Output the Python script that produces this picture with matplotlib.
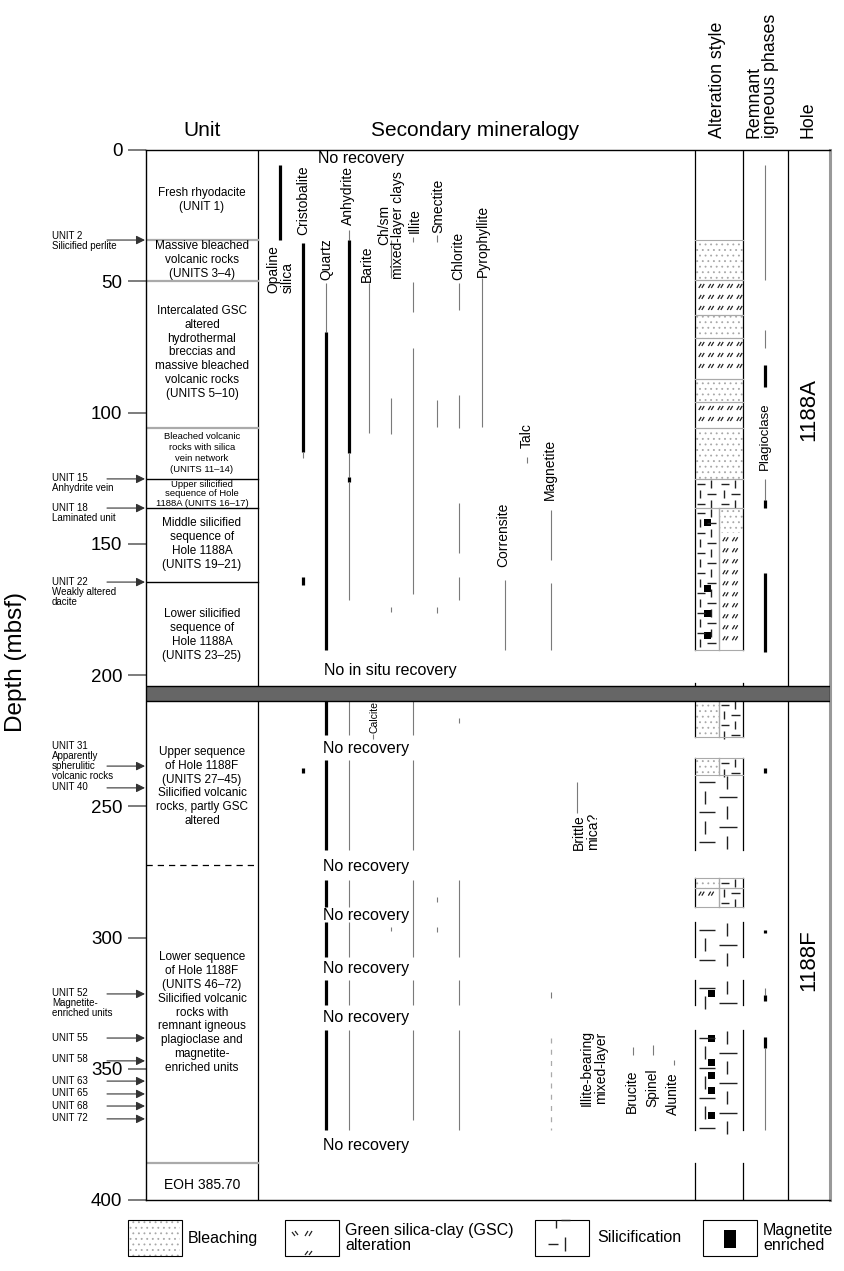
import matplotlib.pyplot as plt
from matplotlib.patches import Rectangle
from matplotlib.collections import LineCollection
import numpy as np

plt.rcParams['font.family'] = ['Liberation Sans', 'DejaVu Sans']
plt.rcParams['hatch.linewidth'] = 0.6

PX = 2.625  # pixels per metre on the depth axis

# ---------------- data ----------------
depth_ticks = [0, 50, 100, 150, 200, 250, 300, 350, 400]

unit_texts = ['Fresh rhyodacite\n(UNIT 1)',
              'Massive bleached\nvolcanic rocks\n(UNITS 3\u20134)',
              'Intercalated GSC\naltered\nhydrothermal\nbreccias and\nmassive bleached\nvolcanic rocks\n(UNITS 5\u201310)',
              'Bleached volcanic\nrocks with silica\nvein network\n(UNITS 11\u201314)',
              'Upper silicified\nsequence of Hole\n1188A (UNITS 16\u201317)',
              'Middle silicified\nsequence of\nHole 1188A\n(UNITS 19\u201321)',
              'Lower silicified\nsequence of\nHole 1188A\n(UNITS 23\u201325)',
              'Upper sequence\nof Hole 1188F\n(UNITS 27\u201345)\nSilicified volcanic\nrocks, partly GSC\naltered',
              'Lower sequence\nof Hole 1188F\n(UNITS 46\u201372)\nSilicified volcanic\nrocks with\nremnant igneous\nplagioclase and\nmagnetite-\nenriched units',
              'EOH 385.70']
unit_centres = [19.0, 41.9, 77.1, 115.4, 131.0, 150.1, 184.8, 242.5, 328.6, 394.3]

unit_bounds = [34.3, 49.9, 105.9, 125.3, 136.4, 164.6, 272.4, 385.9]
unit_bound_kind = ['gray', 'gray', 'gray', 'black', 'black', 'black', 'dashed', 'gray']

side_labels = ['UNIT 2\nSilicified perlite', 'UNIT 15\nAnhydrite vein', 'UNIT 18\nLaminated unit',
               'UNIT 22\nWeakly altered\ndacite',
               'UNIT 31\nApparently\nspherulitic\nvolcanic rocks', 'UNIT 40',
               'UNIT 52\nMagnetite-\nenriched units', 'UNIT 55', 'UNIT 58', 'UNIT 63',
               'UNIT 65', 'UNIT 68', 'UNIT 72']
side_text_depth = [33.1, 125.3, 136.4, 164.6, 227.4, 243.0, 321.5, 338.3, 346.3, 354.7, 359.6, 364.2, 369.1]
side_arrow_depth = [34.3, 125.3, 136.4, 164.6, 234.7, 243.0, 321.5, 338.3, 347.0, 354.7, 359.6, 364.2, 369.1]

mineral_names = ['Opaline\nsilica', 'Cristobalite', 'Quartz', 'Anhydrite', 'Barite', 'Calcite',
                 'Ch/sm\nmixed-layer clays', 'Illite', 'Smectite', 'Chlorite', 'Pyrophyllite',
                 'Talc', 'Magnetite', 'Corrensite', 'Brittle\nmica?', 'Illite-bearing\nmixed-layer',
                 'Brucite', 'Spinel', 'Alunite']
f_runs = [(209.6, 222.9), (232.5, 266.8), (278.2, 288.5), (294.2, 307.5), (316.3, 325.8), (335.4, 373.5)]
mineral_ranges = [
    [(5.7, 34.3, 'thick')],
    [(35.4, 115.1, 'thick'), (115.1, 117.4, 'thin'), (162.7, 165.8, 'thick'), (235.5, 237.4, 'thick')],
    [(50.7, 69.4, 'thin'), (69.4, 190.5, 'thick')] + [(a, b, 'thick') for a, b in f_runs],
    [(30.5, 34.3, 'thin'), (34.3, 115.5, 'thick'), (115.5, 124.6, 'thin'), (124.6, 126.5, 'thick'),
     (126.5, 171.5, 'thin')] + [(a, b, 'thin') for a, b in f_runs],
    [(50.7, 107.9, 'thin')],
    [(222.6, 224.5, 'thin')],
    [(34.3, 48.8, 'thin'), (94.5, 108.0, 'thin'), (174.0, 176.0, 'thin'), (296.0, 297.5, 'thin')],
    [(33.2, 35.0, 'thin'), (50.3, 61.7, 'thin'), (75.5, 169.0, 'thin'), (209.6, 222.9, 'thin'),
     (232.5, 266.8, 'thin'), (278.2, 307.5, 'thin'), (316.3, 325.8, 'thin'), (335.4, 369.7, 'thin')],
    [(32.4, 35.0, 'thin'), (95.3, 105.6, 'thin'), (174.0, 176.4, 'thin'), (284.7, 286.6, 'thin'),
     (296.0, 298.0, 'thin')],
    [(50.7, 61.0, 'thin'), (93.4, 106.0, 'thin'), (134.5, 153.6, 'thin'), (162.7, 171.5, 'thin'),
     (216.5, 218.4, 'thin'), (278.2, 307.5, 'thin'), (316.3, 325.8, 'thin'), (335.4, 373.5, 'thin')],
    [(48.8, 105.6, 'thin')],
    [(117.0, 119.3, 'thin')],
    [(137.2, 156.2, 'thin'), (165.0, 190.5, 'thin'), (320.9, 323.2, 'thin'), (338.4, 373.5, 'dashed')],
    [(163.9, 190.5, 'thin')],
    [(240.9, 252.7, 'thin')],
    [],
    [(341.8, 344.9, 'thin')],
    [(341.0, 344.9, 'thin')],
    [(346.8, 348.7, 'thin')],
]

no_recovery = [3.4, 228.0, 273.0, 291.5, 311.7, 330.4, 379.2]
no_insitu = 198.1

# alteration style intervals (depth top, depth bottom)
bleach_full = [(34.3, 49.5), (63.0, 71.6), (87.3, 96.0), (106.0, 125.3)]
gsc_full = [(49.5, 63.0), (71.6, 87.3), (96.0, 106.0)]
silic_full_a = [(125.3, 136.4)]
silic_full_f = [(238.0, 266.8), (294.2, 307.5), (316.3, 325.8), (335.4, 373.5)]
bleach_left = [(209.6, 223.7), (231.7, 238.0), (277.4, 281.0)]
gsc_left = [(281.0, 288.5)]
silic_left = [(136.4, 190.5)]
bleach_right = [(136.4, 146.0)]
gsc_right = [(146.0, 190.5)]
silic_right = [(209.6, 223.7), (231.7, 238.0), (277.4, 288.5)]
magnetite_a = [142.0, 167.0, 176.5, 185.0]
magnetite_f = [321.3, 338.4, 347.6, 352.5, 358.2, 367.7]
alt_recovered = [(0, 190.5), (203.0, 204.0), (209.6, 223.7), (231.7, 266.8), (277.4, 288.5),
                 (294.2, 307.5), (316.3, 325.8), (335.4, 373.5), (385.9, 400)]

plagioclase = [(5.7, 49.5, 'thin'), (68.6, 75.5, 'thin'), (82.0, 90.3, 'thick'), (125.4, 133.4, 'thin'),
               (133.4, 136.4, 'thick'), (161.2, 191.3, 'thick'), (235.5, 237.4, 'thick'),
               (297.3, 298.4, 'thick'), (319.4, 322.0, 'thin'), (322.0, 324.0, 'thick'),
               (338.0, 342.2, 'thick'), (342.2, 373.5, 'thin')]

gap_top, gap_bottom = 204.0, 210.0

# ---------------- layout ----------------
mineral_x = [280, 303, 326, 349, 369, 373, 391, 413, 437, 459, 482, 527, 551, 505, 577, None, 633, 653, 674]
# (x, depth, vertical alignment, multialignment, fontsize)
label_pos = [(280.5, 54.5, 'bottom', 'left', 10), (303, 32.4, 'bottom', 'left', 10),
             (326, 49.5, 'bottom', 'left', 10), (348, 28.6, 'bottom', 'left', 10),
             (367, 50.3, 'bottom', 'left', 10), (374, 222.0, 'bottom', 'left', 7.5),
             (391, 28.6, 'center', 'center', 10), (415, 31.6, 'bottom', 'left', 10),
             (438, 31.6, 'bottom', 'left', 10), (458, 49.5, 'bottom', 'left', 10),
             (483, 48.4, 'bottom', 'left', 10), (527, 113.6, 'bottom', 'left', 10),
             (550, 133.4, 'bottom', 'left', 10), (503, 158.9, 'bottom', 'left', 10),
             (586, 266.8, 'bottom', 'left', 10), (594, 349.8, 'center', 'center', 10),
             (632, 367.0, 'bottom', 'left', 10), (652, 364.7, 'bottom', 'left', 10),
             (673, 367.8, 'bottom', 'left', 10)]
unit_fs = [8.5, 8.5, 8.5, 6.8, 6.8, 8.5, 8.5, 8.5, 8.5, 10]
unit_ls = [1.2, 1.2, 1.2, 1.25, 1.05, 1.2, 1.2, 1.2, 1.2, 1.2]

X0, XU, XA, XR, XH, X1 = 146, 258, 695, 743, 788, 830
XMID = 719

fig = plt.figure(figsize=(8.44, 12.71), dpi=100)
ax = fig.add_axes([X0 / 844, 1 - 1200 / 1271, (X1 - X0) / 844, 1050 / 1271])
ax.set_xlim(X0, X1)
ax.set_ylim(400, 0)
ax.set_xticks([])
ax.set_yticks(depth_ticks)
ax.tick_params(axis='y', length=13, width=1.2, color='#666666', labelsize=13.5, pad=4)
for s in ['left', 'top', 'bottom']:
    ax.spines[s].set_color('black')
    ax.spines[s].set_linewidth(1.0)
ax.spines['right'].set_color('#999999')
ax.spines['right'].set_linewidth(2.2)
fig.text(16 / 844, 1 - 662 / 1271, 'Depth (mbsf)', rotation=90, ha='center', va='center', fontsize=17.5)


def vline(x, d0, d1, kind, **kw):
    if kind == 'thick':
        ax.plot([x, x], [d0, d1], color='black', lw=2.3, solid_capstyle='butt', **kw)
    elif kind == 'thin':
        ax.plot([x, x], [d0, d1], color='#7a7a7a', lw=0.8, solid_capstyle='butt', **kw)
    else:
        ax.plot([x, x], [d0, d1], color='#aaaaaa', lw=0.9, ls=(0, (4, 5)), **kw)


# column borders
ax.plot([XU, XU], [0, 400], color='black', lw=0.9)
ax.plot([XH, XH], [0, 400], color='black', lw=0.9)
for a, b in alt_recovered:
    ax.plot([XA, XA], [a, b], color='black', lw=0.9)
    ax.plot([XR, XR], [a, b], color='black', lw=0.9)

# unit boundaries
for d, k in zip(unit_bounds, unit_bound_kind):
    if k == 'dashed':
        ax.plot([X0, XU], [d, d], color='black', lw=0.9, ls=(0, (5, 4)))
    else:
        ax.plot([X0, XU], [d, d], color='black' if k == 'black' else '#aaaaaa', lw=1.0 if k == 'black' else 1.6)

for t, d, fs, ls in zip(unit_texts, unit_centres, unit_fs, unit_ls):
    ax.text(202, d, t, ha='center', va='center', fontsize=fs, linespacing=ls)

# side labels and arrows
for t, dt, da in zip(side_labels, side_text_depth, side_arrow_depth):
    ax.text(52, dt - 5.5 / PX, t, ha='left', va='top', fontsize=7, linespacing=1.0, clip_on=False)
    ax.annotate('', xy=(145, da), xytext=(107, da), annotation_clip=False,
                arrowprops=dict(arrowstyle='-|>', color='#333333', lw=0.8, mutation_scale=13,
                                shrinkA=0, shrinkB=0))

# secondary mineralogy
for name, x, rngs, lp in zip(mineral_names, mineral_x, mineral_ranges, label_pos):
    if x is not None:
        for a, b, k in rngs:
            vline(x, a, b, k)
    lx, ld, va, ma, fs = lp
    ax.text(lx, ld, name, rotation=90, ha='center', va=va, multialignment=ma,
            fontsize=fs, linespacing=1.0)

for i, d in enumerate(no_recovery):
    ax.text(318 if i == 0 else 323, d, 'No recovery', ha='left', va='center', fontsize=11.5)
ax.text(324, no_insitu, 'No in situ recovery', ha='left', va='center', fontsize=11.5)


# alteration patterns
def bleach(x0, x1, d0, d1, **kw):
    ax.add_patch(Rectangle((x0, d0), x1 - x0, d1 - d0, facecolor='white', edgecolor='#a8a8a8',
                           hatch='...', lw=0, **kw))


def gsc(x0, x1, d0, d1, clip=True):
    segs = []
    for yy in np.arange(d0 * PX + 6, d1 * PX - 3, 11):
        for xx in np.arange(x0 + 5, x1 - 3, 9.5):
            for off in (0, 3):
                segs.append([(xx - 1.2 + off, (yy + 2) / PX), (xx + 1.2 + off, (yy - 2) / PX)])
    ax.add_collection(LineCollection(segs, colors='#222222', linewidths=0.9, clip_on=clip))


def silic(x0, x1, d0, d1, w=24, h=10, clip=True):
    # brick-like dash/tick pattern, w = repeat width, h = row height (pixels)
    segs = []
    k = 0
    f = w / 24
    for yy in np.arange(d0 * PX, d1 * PX - 4, h):
        for xx in np.arange(x0, x1 - 4, w):
            if k % 2 == 0:
                segs.append([(xx + 2 * f, (yy + h / 2) / PX), (min(xx + 10 * f, x1 - 1), (yy + h / 2) / PX)])
                if xx + 16 * f < x1 - 1:
                    segs.append([(xx + 16 * f, (yy + 1) / PX), (xx + 16 * f, (yy + h - 1) / PX)])
            else:
                segs.append([(xx + 5 * f, (yy + 1) / PX), (xx + 5 * f, (yy + h - 1) / PX)])
                if xx + 12 * f < x1 - 1:
                    segs.append([(xx + 12 * f, (yy + h / 2) / PX), (min(xx + 21 * f, x1 - 1), (yy + h / 2) / PX)])
        k += 1
    ax.add_collection(LineCollection(segs, colors='#222222', linewidths=1.0, clip_on=clip))


def magnetite(cx, d, size=7, clip=True):
    ax.add_patch(Rectangle((cx - size / 2, d - size / 2 / PX), size, size / PX,
                           facecolor='black', edgecolor='black', lw=0, clip_on=clip))


for a, b in bleach_full:
    bleach(XA, XR, a, b)
for a, b in gsc_full:
    gsc(XA, XR, a, b)
for a, b in silic_full_a:
    silic(XA, XR, a, b)
for a, b in silic_full_f:
    silic(XA, XR, a, b, w=48, h=15)
for a, b in bleach_left:
    bleach(XA, XMID, a, b)
for a, b in gsc_left:
    gsc(XA, XMID, a, b)
for a, b in silic_left:
    silic(XA, XMID, a, b)
for a, b in bleach_right:
    bleach(XMID, XR, a, b)
for a, b in gsc_right:
    gsc(XMID, XR, a, b)
for a, b in silic_right:
    silic(XMID, XR, a, b)
for a, b in silic_left + silic_right:
    ax.plot([XMID, XMID], [a, b], color='#aaaaaa', lw=1.0)
for lst in [bleach_full, gsc_full, silic_full_a, bleach_left + gsc_left + silic_left]:
    for a, b in lst:
        for d in (a, b):
            ax.plot([XA, XR], [d, d], color='#aaaaaa', lw=0.8)
for d in magnetite_a:
    magnetite(707, d)
for d in magnetite_f:
    magnetite(711, d)

# remnant igneous phases
for a, b, k in plagioclase:
    vline(765, a, b, k)
ax.text(765, 121.9, 'Plagioclase', rotation=90, ha='center', va='bottom', fontsize=9.5)

# hole column
ax.text(809, 99, '1188A', rotation=90, ha='center', va='center', fontsize=16)
ax.text(809, 308.6, '1188F', rotation=90, ha='center', va='center', fontsize=16)

# gap between holes
ax.add_patch(Rectangle((X0, gap_top), X1 - X0, gap_bottom - gap_top, facecolor='#666666',
                       edgecolor='black', lw=1.0, zorder=5))

# headers
ax.text(202, -7.6, 'Unit', ha='center', va='center', fontsize=15, clip_on=False)
ax.text(475, -7.6, 'Secondary mineralogy', ha='center', va='center', fontsize=15, clip_on=False)
ax.text(717, -4.5, 'Alteration style', rotation=90, ha='center', va='bottom', fontsize=12.8, clip_on=False)
ax.text(762, -4.5, 'Remnant\nigneous phases', rotation=90, ha='center', va='bottom',
        multialignment='left', fontsize=12.8, linespacing=1.0, clip_on=False)
ax.text(808, -4.5, 'Hole', rotation=90, ha='center', va='bottom', fontsize=12.8, clip_on=False)

# legend
ly0, ly1 = (1220 - 150) / PX, (1256 - 150) / PX
lmid = (ly0 + ly1) / 2
bleach(128, 180, ly0, ly1, clip_on=False)
for bx in (128, 285, 535, 703):
    ax.add_patch(Rectangle((bx, ly0), 54, ly1 - ly0, facecolor='none', edgecolor='black', lw=0.8,
                           clip_on=False))
gsc_legend = [[(292, ly0 + 12 / PX), (295, ly0 + 16 / PX)], [(295, ly0 + 11 / PX), (298, ly0 + 15 / PX)],
              [(305, ly0 + 16 / PX), (308, ly0 + 11 / PX)], [(309, ly0 + 16 / PX), (312, ly0 + 11 / PX)],
              [(305, ly1 - 1 / PX), (308, ly1 - 5 / PX)], [(309, ly1 - 1 / PX), (312, ly1 - 5 / PX)]]
ax.add_collection(LineCollection(gsc_legend, colors='#222222', linewidths=0.9, clip_on=False))
silic_legend = [[(556, ly0), (556, ly0 + 8 / PX)], [(561, ly0), (570, ly0)],
                [(548, ly0 + 24 / PX), (558, ly0 + 24 / PX)], [(565, ly0 + 17 / PX), (565, ly0 + 31 / PX)]]
ax.add_collection(LineCollection(silic_legend, colors='#222222', linewidths=1.0, clip_on=False))
ax.add_patch(Rectangle((724, ly0 + 10 / PX), 12, 18 / PX, facecolor='black', lw=0, clip_on=False))
ax.text(188, lmid, 'Bleaching', ha='left', va='center', fontsize=11.5, clip_on=False)
ax.text(345, lmid, 'Green silica-clay (GSC)\nalteration', ha='left', va='center', fontsize=11.5,
        linespacing=1.05, clip_on=False)
ax.text(597, lmid, 'Silicification', ha='left', va='center', fontsize=11.5, clip_on=False)
ax.text(763, lmid, 'Magnetite\nenriched', ha='left', va='center', fontsize=11.5, linespacing=1.05,
        clip_on=False)

fig.savefig('out.png', dpi=100)
